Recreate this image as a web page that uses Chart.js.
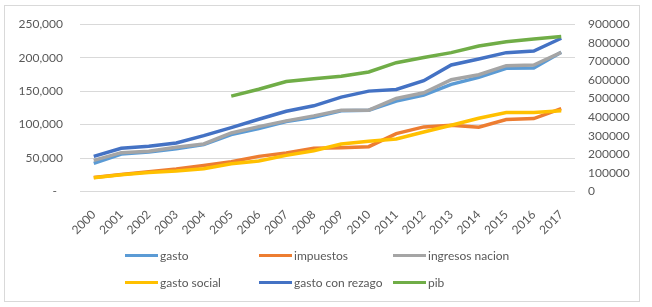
<!DOCTYPE html>
<html>
<head>
<meta charset="utf-8">
<script src="https://cdn.jsdelivr.net/npm/chart.js@4/dist/chart.umd.min.js"></script>
<style>
  body { margin: 0; background: #fff; }
  .wrap { position: relative; width: 652px; height: 307px; }
  .frame { position: absolute; left: 4px; top: 5px; width: 636px; height: 297px; border: 1px solid #d9d9d9; box-sizing: border-box; }
  canvas { position: absolute; left: 0; top: 0; }
  .legend { position: absolute; left: 0; top: 0; font: 12px Lato, sans-serif; color: #595959; }
  .legend .item { position: absolute; display: flex; align-items: center; white-space: nowrap; }
  .legend .swatch { width: 33px; height: 3px; margin-right: 2px; }
</style>
</head>
<body>
<div class="wrap">
  <div class="frame"></div>
  <canvas id="chart" width="652" height="307"></canvas>
  <div class="legend" id="legend"></div>
</div>
<script>
const years = ['2000', '2001', '2002', '2003', '2004', '2005', '2006', '2007', '2008',
  '2009', '2010', '2011', '2012', '2013', '2014', '2015', '2016', '2017']

const gasto = [42000, 56000, 59000, 64000, 70000, 85000, 94000, 104500, 111000,
  120500, 121500, 135000, 144000, 160000, 170500, 184000, 184500, 208000]
const impuestos = [21000, 25500, 29500, 33500, 39000, 44500, 52500, 57500, 64500,
  65500, 67000, 86500, 96500, 99000, 96000, 107500, 109000, 124000]
const ingresosNacion = [46500, 58000, 60000, 66000, 71000, 87500, 97000, 105500, 113000,
  121500, 121500, 139000, 147500, 167000, 174500, 188000, 189000, 208000]
const gastoSocial = [20500, 25000, 28500, 30500, 34000, 41500, 45500, 54000, 61000,
  71000, 75000, 78500, 89000, 99000, 109500, 118000, 118000, 120500]
const gastoConRezago = [52500, 64500, 67500, 72500, 83500, 95500, 108000, 120000, 128000,
  141000, 150000, 152500, 165500, 189000, 198000, 207500, 210000, 229000]
const pib = [null, null, null, null, null, 513000, 550000, 592000, 607000,
  620000, 643000, 693000, 721000, 747000, 783000, 806000, 820000, 834000]

const leftTickLabels = ['-  ', '50,000', '100,000', '150,000', '200,000', '250,000']
const rightTickLabels = ['0', '100000', '200000', '300000', '400000', '500000',
  '600000', '700000', '800000', '900000']

const series = [
  { label: 'gasto', data: gasto, color: '#5B9BD5', axis: 'y' },
  { label: 'impuestos', data: impuestos, color: '#ED7D31', axis: 'y' },
  { label: 'ingresos nacion', data: ingresosNacion, color: '#A5A5A5', axis: 'y' },
  { label: 'gasto social', data: gastoSocial, color: '#FFC000', axis: 'y' },
  { label: 'gasto con rezago', data: gastoConRezago, color: '#4472C4', axis: 'y' },
  { label: 'pib', data: pib, color: '#70AD47', axis: 'y1' }
]

const textColor = '#595959'
const font = { family: 'Lato, sans-serif', size: 12 }

const chart = new Chart(document.getElementById('chart'), {
  type: 'line',
  data: {
    labels: years,
    datasets: series.map((s, i) => ({
      label: s.label,
      data: s.data,
      borderColor: s.color,
      backgroundColor: s.color,
      borderWidth: 3.5,
      pointRadius: 0,
      tension: 0,
      yAxisID: s.axis,
      order: -i
    }))
  },
  options: {
    responsive: false,
    animation: false,
    layout: { padding: { left: 4, right: 12, top: 22, bottom: 67 } },
    plugins: {
      legend: { display: false },
      tooltip: { enabled: false }
    },
    scales: {
      x: {
        offset: true,
        grid: { display: false },
        border: { display: false },
        ticks: {
          color: textColor,
          font: font,
          minRotation: 45,
          maxRotation: 45,
          padding: 8
        },
        afterFit: (scale) => { scale.height = 48.5 }
      },
      y: {
        position: 'left',
        min: 0,
        max: 250000,
        grid: { color: '#d9d9d9', drawTicks: false },
        border: { display: false },
        ticks: {
          stepSize: 50000,
          color: textColor,
          font: font,
          padding: 17,
          callback: (v) => leftTickLabels[v / 50000]
        },
        afterFit: (scale) => { scale.width = 76 }
      },
      y1: {
        position: 'right',
        min: 0,
        max: 900000,
        grid: { drawOnChartArea: false, drawTicks: false },
        border: { display: false },
        ticks: {
          stepSize: 100000,
          color: textColor,
          font: font,
          padding: 13,
          callback: (v) => rightTickLabels[v / 100000]
        },
        afterFit: (scale) => { scale.width = 65 }
      }
    }
  }
})

// legend laid out in three columns like the original
const legendEl = document.getElementById('legend')
const colX = [125, 259, 393]
const rowY = [255, 282]
chart.data.datasets.forEach((ds, i) => {
  const item = document.createElement('div')
  item.className = 'item'
  item.style.left = colX[i % 3] + 'px'
  item.style.top = (rowY[Math.floor(i / 3)] - 9) + 'px'
  item.style.height = '18px'
  const sw = document.createElement('span')
  sw.className = 'swatch'
  sw.style.background = ds.borderColor
  const txt = document.createElement('span')
  txt.textContent = ds.label
  item.appendChild(sw)
  item.appendChild(txt)
  legendEl.appendChild(item)
})
</script>
</body>
</html>
